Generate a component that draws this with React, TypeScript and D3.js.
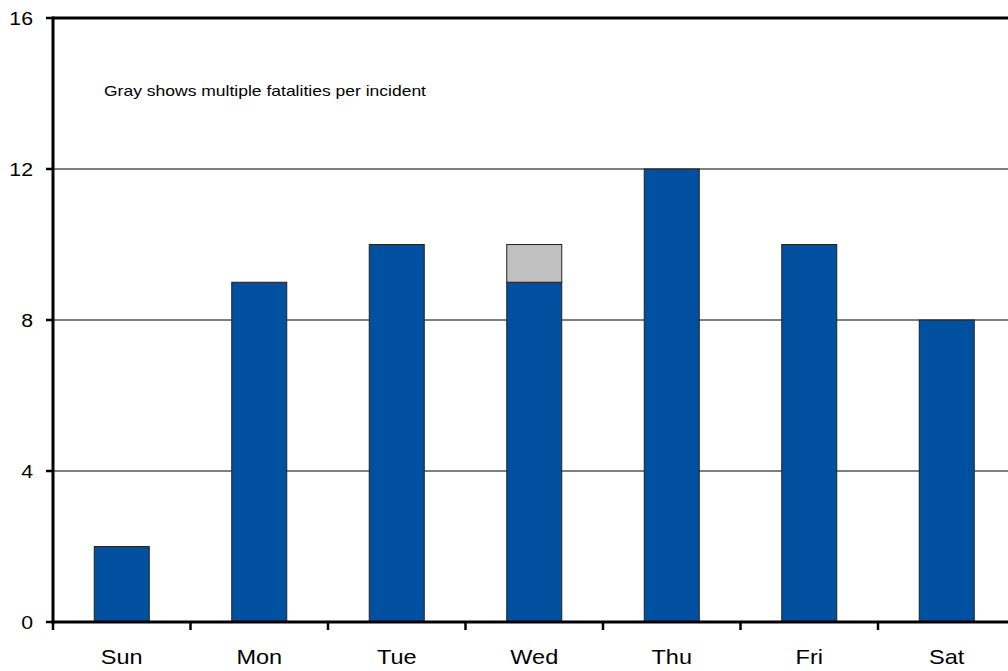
import React from "react";
import * as d3 from "d3";

const days = ["Sun", "Mon", "Tue", "Wed", "Thu", "Fri", "Sat"];
const singleFatality = [2, 9, 10, 9, 12, 10, 8];
const multipleFatality = [0, 0, 0, 1, 0, 0, 0];
const yTicks = [0, 4, 8, 12, 16];
const note = "Gray shows multiple fatalities per incident";

export default function App() {
  const W = 1008, H = 671;
  const left = 53, right = 1015.5, top = 18, bottom = 622;
  const x = d3.scaleBand<string>().domain(days).range([left, right]).paddingInner(0).paddingOuter(0);
  const y = d3.scaleLinear().domain([0, 16]).range([bottom, top]);
  const bw = x.bandwidth() * 0.4;
  const font = "'Liberation Sans', Arial, sans-serif";
  const blue = "#0050A0";
  const gray = "#C0C0C0";
  const sx = 1.12;

  return (
    <svg width={W} height={H} style={{ position: "absolute", left: 0, top: 0, background: "#fff" }}>
      {yTicks.filter(t => t > 0 && t < 16).map(t => (
        <line key={t} x1={left} x2={right} y1={y(t)} y2={y(t)} stroke="#000" strokeWidth={1} />
      ))}
      {days.map((d, i) => {
        const cx = (x(d) as number) + x.bandwidth() / 2;
        const s = singleFatality[i];
        const m = multipleFatality[i];
        return (
          <g key={d}>
            <rect x={cx - bw / 2} y={y(s)} width={bw} height={y(0) - y(s)} fill={blue} stroke="#222" strokeWidth={1} />
            {m > 0 && (
              <rect x={cx - bw / 2} y={y(s + m)} width={bw} height={y(s) - y(s + m)} fill={gray} stroke="#222" strokeWidth={1} />
            )}
          </g>
        );
      })}
      <line x1={left} x2={right} y1={y(16)} y2={y(16)} stroke="#000" strokeWidth={3} />
      <line x1={left} x2={left} y1={top - 1.5} y2={bottom + 1.5} stroke="#000" strokeWidth={3} />
      <line x1={left - 1.5} x2={right} y1={bottom} y2={bottom} stroke="#000" strokeWidth={3} />
      {yTicks.map(t => (
        <g key={t}>
          <line x1={left - 7} x2={left} y1={y(t)} y2={y(t)} stroke="#000" strokeWidth={2.5} />
          <text transform={`translate(33,${y(t) + 7}) scale(${sx},1)`} textAnchor="end" fontFamily={font} fontSize={19} fill="#000">{t}</text>
        </g>
      ))}
      {days.map((d, i) => {
        const bx = x(d) as number;
        return (
          <g key={d}>
            <line x1={bx} x2={bx} y1={bottom} y2={bottom + 8} stroke="#000" strokeWidth={2.5} />
            <text transform={`translate(${bx + x.bandwidth() / 2},664) scale(${sx},1)`} textAnchor="middle" fontFamily={font} fontSize={21} fill="#000">{d}</text>
          </g>
        );
      })}
      <text x={104} y={96} fontFamily={font} fontSize={15} fill="#000" textLength={322} lengthAdjust="spacingAndGlyphs">{note}</text>
    </svg>
  );
}
